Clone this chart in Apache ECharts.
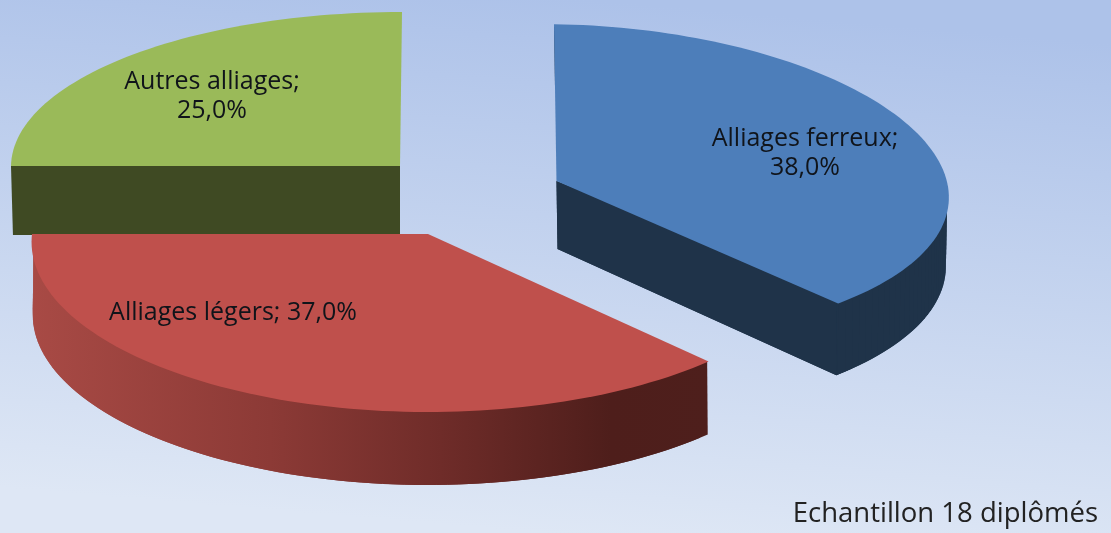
<!DOCTYPE html>
<html><head><meta charset="utf-8">
<style>html,body{margin:0;padding:0;width:1111px;height:533px;overflow:hidden}#c{width:1111px;height:533px}</style>
<script src="https://cdn.jsdelivr.net/npm/echarts@6/dist/echarts.min.js"></script></head>
<body><div id="c"></div>
<script>
const categories = ['Alliages ferreux', 'Alliages légers', 'Autres alliages'];
const values = [38.0, 37.0, 25.0];
const labelBreaks = ['\n', ' ', '\n'];
const note = 'Echantillon 18 diplômés';

const FONT = '"Open Sans", sans-serif';
const looks = [
  {cx:556.5, cy:181, rx:391.5, ry:160, kx:.06, ky:.02, sx:.016, ty:.015, depth:68, sbx:.99, sby:1.03, ddx:1,
   top:'#4D7EBA', side:'#1F3349', cut:'#1F3349', cuts:[true, true], wall:true, lx:805, ly:153, order:2},
  {cx:428, cy:234, rx:396, ry:167, kx:.048, ky:.066, sx:0, ty:0, depth:73, sbx:.997, sby:1, ddx:0,
   top:'#BF504C', cut:'#4E1F1C', cuts:[false, false], wall:true,
   side:[[0,'#A84A45'],[.35,'#8C3A36'],[.6,'#6F2C29'],[.85,'#4E1E1B'],[1,'#4E1F1C']], lx:233, ly:313, order:3},
  {cx:400, cy:166, rx:389, ry:154, kx:0, ky:0, sx:-.013, ty:0, depth:69, sbx:.995, sby:1, ddx:0,
   top:'#9ABA59', side:'#3F4A23', cut:'#3F4A23', cuts:[true, false], wall:false, lx:212, ly:96.5, order:1}
];

function rim(g, deg) {
  const t = deg * Math.PI / 180, s = Math.sin(t), c = -Math.cos(t);
  const dx = g.rx * s * (1 + g.kx * c), dy = g.ry * c * (1 + g.ky * c);
  return [g.cx + dx + g.sx * dy, g.cy + dy + g.ty * dx];
}
function base(g, p) {
  return [g.cx + (p[0] - g.cx) * g.sbx + g.ddx, g.cy + (p[1] - g.cy) * g.sby + g.depth];
}
function inset(g, p) {
  return [g.cx + (p[0] - g.cx) * .995, g.cy + (p[1] - g.cy) * .995];
}
const total = values.reduce((a, b) => a + b, 0);

function renderItem(params, api) {
  const i = params.dataIndex, g = looks[i], z2 = g.order;
  let before = 0;
  for (let k = 0; k < i; k++) before += values[k];
  const a0 = before / total * 360, a1 = (before + api.value(0)) / total * 360;
  const arc = [];
  for (let a = a0; a < a1; a += 1.5) arc.push(rim(g, a));
  arc.push(rim(g, a1));
  const n = arc.length;
  const apex = [g.cx, g.cy];
  const apexBase = base(g, apex);
  const sideFill = Array.isArray(g.side)
    ? new echarts.graphic.LinearGradient(g.cx - g.rx, 0, g.cx + g.rx * .72, 0,
        g.side.map(s => ({offset: s[0], color: s[1]})), true)
    : g.side;
  const pct = api.value(0).toFixed(1).replace('.', ',') + '%';
  const children = [];
  if (g.cuts[0]) {
    children.push({type:'polygon', z2, shape:{points:[apex, arc[0], base(g, arc[0]), apexBase]}, style:{fill:g.cut}});
  }
  if (g.cuts[1]) {
    const pts = [apex, arc[n - 1], base(g, arc[n - 1]), apexBase];
    children.push({type:'polygon', z2, shape:{points:pts}, style:{fill:g.cut}});
    // slight overlap with the outer wall so no seam shows at the corner
    children.push({type:'polygon', z2, shape:{points:[arc[n - 4], base(g, arc[n - 4]), base(g, arc[n - 1]), apexBase, apex]}, style:{fill:g.cut}});
  }
  if (g.wall) {
    for (let j = 0; j + 1 < n; j++) {
      const e = Math.min(j + 2, n - 1);
      children.push({type:'polygon', z2, shape:{points:[inset(g, arc[j]), inset(g, arc[e]), base(g, arc[e]), base(g, arc[j])]},
        style:{fill:sideFill}});
    }
  }
  children.push({type:'polygon', z2, shape:{points:[apex].concat(arc)}, style:{fill:g.top}});
  children.push({type:'text', z2, style:{x:g.lx, y:g.ly, text:categories[i] + ';' + labelBreaks[i] + pct,
      fill:'#10141a', font:'25px ' + FONT, align:'center', verticalAlign:'middle', lineHeight:29}});
  return {type: 'group', children};
}

const chart = echarts.init(document.getElementById('c'), null, {renderer:'canvas'});
chart.setOption({
  animation:false,
  backgroundColor:new echarts.graphic.LinearGradient(.53, 0, .49, 1,
    [{offset:0,color:'#ADC2E9'},{offset:1,color:'#DEE7F5'}]),
  graphic:[{type:'text', right:13, top:500, style:{text:note, fill:'#222', font:'27.5px ' + FONT}}],
  series:[{type:'custom', coordinateSystem:'none', renderItem, data:values.map(v => [v])}]
});
</script></body></html>
